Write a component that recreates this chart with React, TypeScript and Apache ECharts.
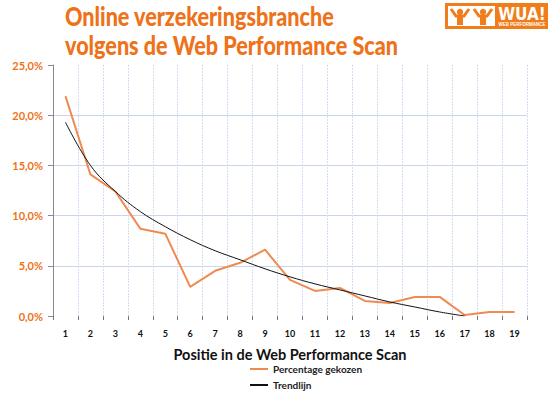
import React, { useEffect, useRef } from "react";
import * as echarts from "echarts";

const categories = ["1","2","3","4","5","6","7","8","9","10","11","12","13","14","15","16","17","18","19"];
const percentageChosen = [21.9, 14.1, 12.4, 8.7, 8.2, 2.9, 4.5, 5.3, 6.6, 3.6, 2.5, 2.8, 1.5, 1.3, 1.9, 1.9, 0.1, 0.4, 0.4];
const trendline = [19.3, 15.0, 12.4, 10.4, 8.9, 7.6, 6.5, 5.6, 4.7, 3.9, 3.2, 2.6, 2.0, 1.4, 0.9, 0.4, 0.0, null, null];
const yTicks = [0, 5, 10, 15, 20, 25];
const titleLines = ["Online verzekeringsbranche", "volgens de Web Performance Scan"];
const xAxisName = "Positie in de Web Performance Scan";
const seriesNames = ["Percentage gekozen", "Trendlijn"];

const ORANGE = "#ee7219";
const LINE_ORANGE = "#ef8a52";
const FONT = "Lato, 'Open Sans', sans-serif";

export default function App() {
  const ref = useRef<HTMLDivElement>(null);
  useEffect(() => {
    if (!ref.current) return;
    const chart = echarts.init(ref.current, null, { renderer: "svg" });
    const gridLine = "#c9d5ef";
    chart.setOption({
      animation: false,
      backgroundColor: "#ffffff",
      textStyle: { fontFamily: FONT },
      grid: { left: 53, right: 23, top: 65, bottom: 80, containLabel: false },
      legend: {
        orient: "vertical",
        left: 250,
        top: 364,
        padding: 0,
        itemWidth: 18,
        itemHeight: 2,
        itemGap: 6,
        icon: "rect",
        textStyle: { fontSize: 10, fontWeight: "bold", color: "#222", fontFamily: FONT },
        data: seriesNames,
      },
      xAxis: {
        type: "category",
        data: categories,
        boundaryGap: true,
        name: xAxisName,
        nameLocation: "middle",
        nameGap: 31,
        nameTextStyle: { fontSize: 14.5, fontWeight: "bold", color: "#111", fontFamily: FONT },
        axisLine: { show: true, lineStyle: { color: "#6f6f6f", width: 2, shadowColor: "rgba(0,0,0,0.35)", shadowOffsetY: 2, shadowBlur: 2 } },
        axisTick: { show: true, alignWithLabel: false, length: 4, lineStyle: { color: "#777" } },
        axisLabel: { fontSize: 9, fontWeight: "bold", color: "#111", margin: 13, fontFamily: FONT },
        splitLine: { show: true, lineStyle: { color: "#d3ddf3", type: [2, 1], width: 1 } },
      },
      yAxis: [
        {
          type: "value",
          min: yTicks[0],
          max: yTicks[yTicks.length - 1],
          interval: 5,
          axisLine: { show: true, lineStyle: { color: "#8a8a8a", width: 1 } },
          axisTick: { show: true, length: 5, lineStyle: { color: "#8a8a8a" } },
          axisLabel: {
            fontSize: 11,
            fontWeight: "bold",
            color: ORANGE,
            margin: 10,
            fontFamily: FONT,
            formatter: (v: number) => v.toFixed(1).replace(".", ",") + "%",
          },
          splitLine: {
            show: true,
            lineStyle: { color: ["transparent", gridLine, gridLine, gridLine, gridLine, "transparent"], width: 1 },
          },
        },
        {
          type: "value",
          position: "right",
          min: yTicks[0],
          max: yTicks[yTicks.length - 1],
          interval: 5,
          axisLine: { show: true, lineStyle: { color: "#8c8c8c", width: 2, shadowColor: "rgba(0,0,0,0.3)", shadowOffsetX: 2, shadowBlur: 2 } },
          axisTick: { show: false },
          axisLabel: { show: false },
          splitLine: { show: false },
        },
      ],
      series: [
        {
          name: seriesNames[0],
          type: "line",
          data: percentageChosen,
          symbol: "none",
          lineStyle: { color: LINE_ORANGE, width: 2 },
          itemStyle: { color: LINE_ORANGE },
          z: 3,
        },
        {
          name: seriesNames[1],
          type: "line",
          data: trendline,
          symbol: "none",
          smooth: 0.4,
          lineStyle: { color: "#111", width: 1 },
          itemStyle: { color: "#111" },
          z: 4,
        },
      ],
      graphic: [
        {
          type: "text",
          x: 65,
          y: 3,
          scaleX: 0.83,
          style: { text: titleLines[0], fontSize: 26, fontWeight: 900, fill: ORANGE, fontFamily: FONT, verticalAlign: "top" },
        },
        {
          type: "text",
          x: 65,
          y: 32,
          scaleX: 0.83,
          style: { text: titleLines[1], fontSize: 26, fontWeight: 900, fill: ORANGE, fontFamily: FONT, verticalAlign: "top" },
        },
        {
          type: "group",
          left: 445,
          top: 3,
          children: [
            { type: "rect", shape: { x: 0, y: 0, width: 103, height: 26 }, style: { fill: "#f07c1a" } },
            { type: "rect", shape: { x: 3, y: 3, width: 47, height: 20 }, style: { fill: "#ffffff" } },
            { type: "circle", shape: { cx: 15, cy: 9, r: 3.2 }, style: { fill: "#f07c1a" } },
            { type: "polyline", shape: { points: [[6, 6], [11, 13], [15, 13], [19, 13], [24, 6]] }, style: { stroke: "#f07c1a", lineWidth: 3, fill: "none" } },
            { type: "rect", shape: { x: 12, y: 12, width: 6, height: 10 }, style: { fill: "#f07c1a" } },
            { type: "circle", shape: { cx: 38, cy: 9, r: 3.2 }, style: { fill: "#f07c1a" } },
            { type: "polyline", shape: { points: [[29, 6], [34, 13], [38, 13], [42, 13], [47, 6]] }, style: { stroke: "#f07c1a", lineWidth: 3, fill: "none" } },
            { type: "rect", shape: { x: 35, y: 12, width: 6, height: 10 }, style: { fill: "#f07c1a" } },
            { type: "text", x: 77, y: 2, style: { text: "WUA!", fontSize: 17, fontWeight: "bold", fill: "#ffffff", textAlign: "center", fontFamily: "'DejaVu Sans Condensed', sans-serif" } },
            { type: "text", x: 77, y: 19, style: { text: "WEB PERFORMANCE", fontSize: 4.5, fontWeight: "bold", fill: "#ffffff", textAlign: "center", fontFamily: "sans-serif" } },
          ],
        },
      ],
    });
    return () => chart.dispose();
  }, []);
  return <div ref={ref} style={{ width: 550, height: 396, position: "absolute", left: 0, top: 0 }} />;
}
